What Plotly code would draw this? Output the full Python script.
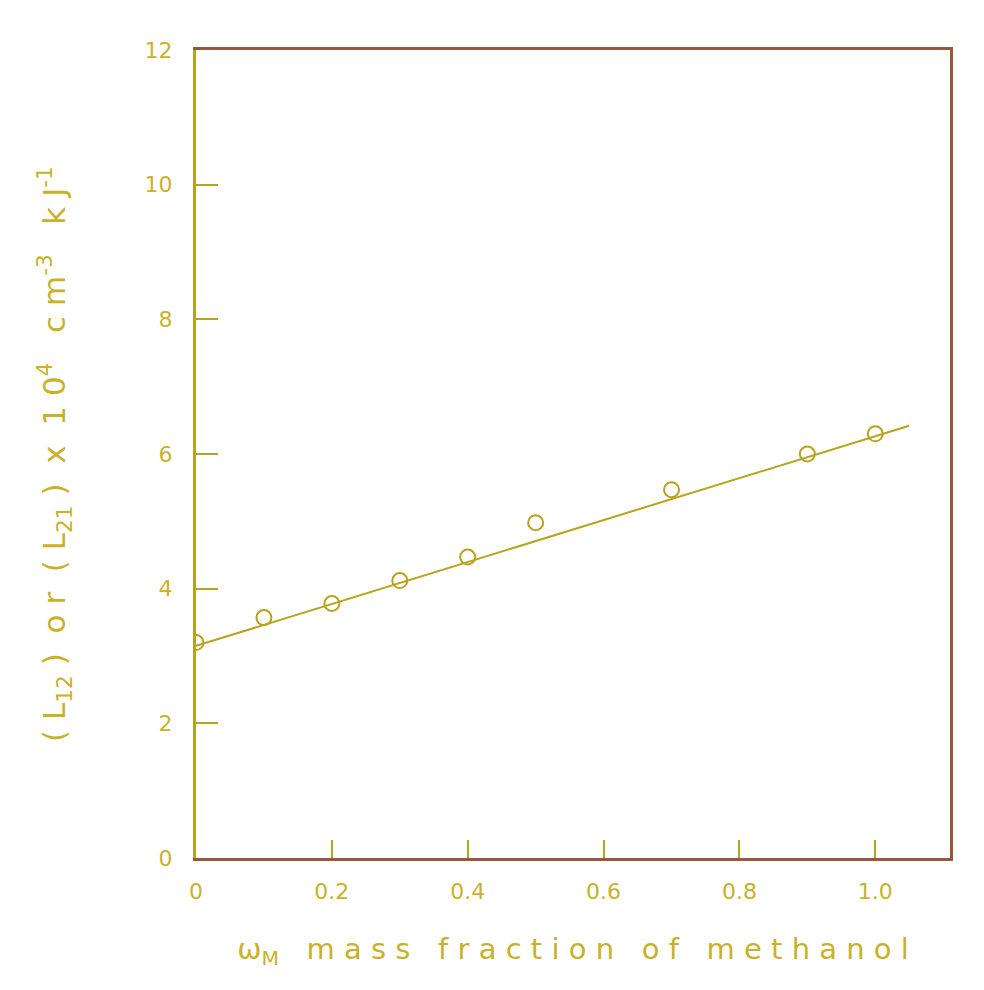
import plotly.graph_objects as go

# Data
mass_fraction = [0.0, 0.1, 0.2, 0.3, 0.4, 0.5, 0.7, 0.9, 1.0]
L_values = [3.2, 3.57, 3.78, 4.12, 4.47, 4.98, 5.47, 6.0, 6.3]
fit_x = [0.0, 1.05]
fit_y = [3.15, 6.42]

x_ticks = [0, 0.2, 0.4, 0.6, 0.8, 1.0]
x_ticklabels = ["0", "0.2", "0.4", "0.6", "0.8", "1.0"]
y_ticks = [0, 2, 4, 6, 8, 10, 12]
y_ticklabels = ["0", "2", "4", "6", "8", "10", "12"]

olive = "#b9a21c"
brown = "#94583a"
text_col = "#c9b12a"
font_family = "DejaVu Sans"

fig = go.Figure()

fig.add_trace(go.Scatter(
    x=fit_x, y=fit_y, mode="lines",
    line=dict(color=olive, width=2),
    showlegend=False, hoverinfo="skip",
))
fig.add_trace(go.Scatter(
    x=mass_fraction, y=L_values, mode="markers",
    marker=dict(symbol="circle-open", size=15, color=olive, line=dict(width=2, color=olive)),
    showlegend=False,
))
# invisible trace on secondary y to draw the brown right edge
fig.add_trace(go.Scatter(
    x=[0], y=[0], yaxis="y2", mode="markers",
    marker=dict(opacity=0), showlegend=False, hoverinfo="skip",
))

fig.update_layout(
    width=984, height=990,
    margin=dict(l=188, r=42, t=42, b=140),
    paper_bgcolor="white", plot_bgcolor="white",
    font=dict(family=font_family, color=text_col, size=22),
    xaxis=dict(
        range=[0, 1.11], tickvals=x_ticks, ticktext=x_ticklabels,
        ticks="inside", ticklen=18, tickwidth=2, tickcolor=olive,
        showline=True, linecolor=brown, linewidth=3, mirror=True,
        showgrid=False, zeroline=False, ticklabelstandoff=12,
        tickfont=dict(size=22, color=text_col, family=font_family),
        title=dict(
            text="ω<sub>M</sub>   m a s s   f r a c t i o n   o f   m e t h a n o l",
            font=dict(size=29, color=text_col, family=font_family),
            standoff=36,
        ),
    ),
    yaxis=dict(
        range=[0, 12], tickvals=y_ticks, ticktext=y_ticklabels,
        ticks="inside", ticklen=22, tickwidth=2, tickcolor=olive,
        showline=True, linecolor=olive, linewidth=3, mirror=False,
        showgrid=False, zeroline=False, ticklabelstandoff=16,
        tickfont=dict(size=22, color=text_col, family=font_family),
        title=dict(
            text="( L<sub>12</sub> )  o r  ( L<sub>21</sub> )  x  1 0<sup>4</sup>   c m<sup>-3</sup>   k J<sup>-1</sup>",
            font=dict(size=31, color=text_col, family=font_family),
            standoff=70,
        ),
    ),
    yaxis2=dict(
        overlaying="y", side="right", range=[0, 12],
        showline=True, linecolor=brown, linewidth=3,
        showticklabels=False, ticks="", showgrid=False, zeroline=False,
    ),
)

fig.write_html("out.html")
